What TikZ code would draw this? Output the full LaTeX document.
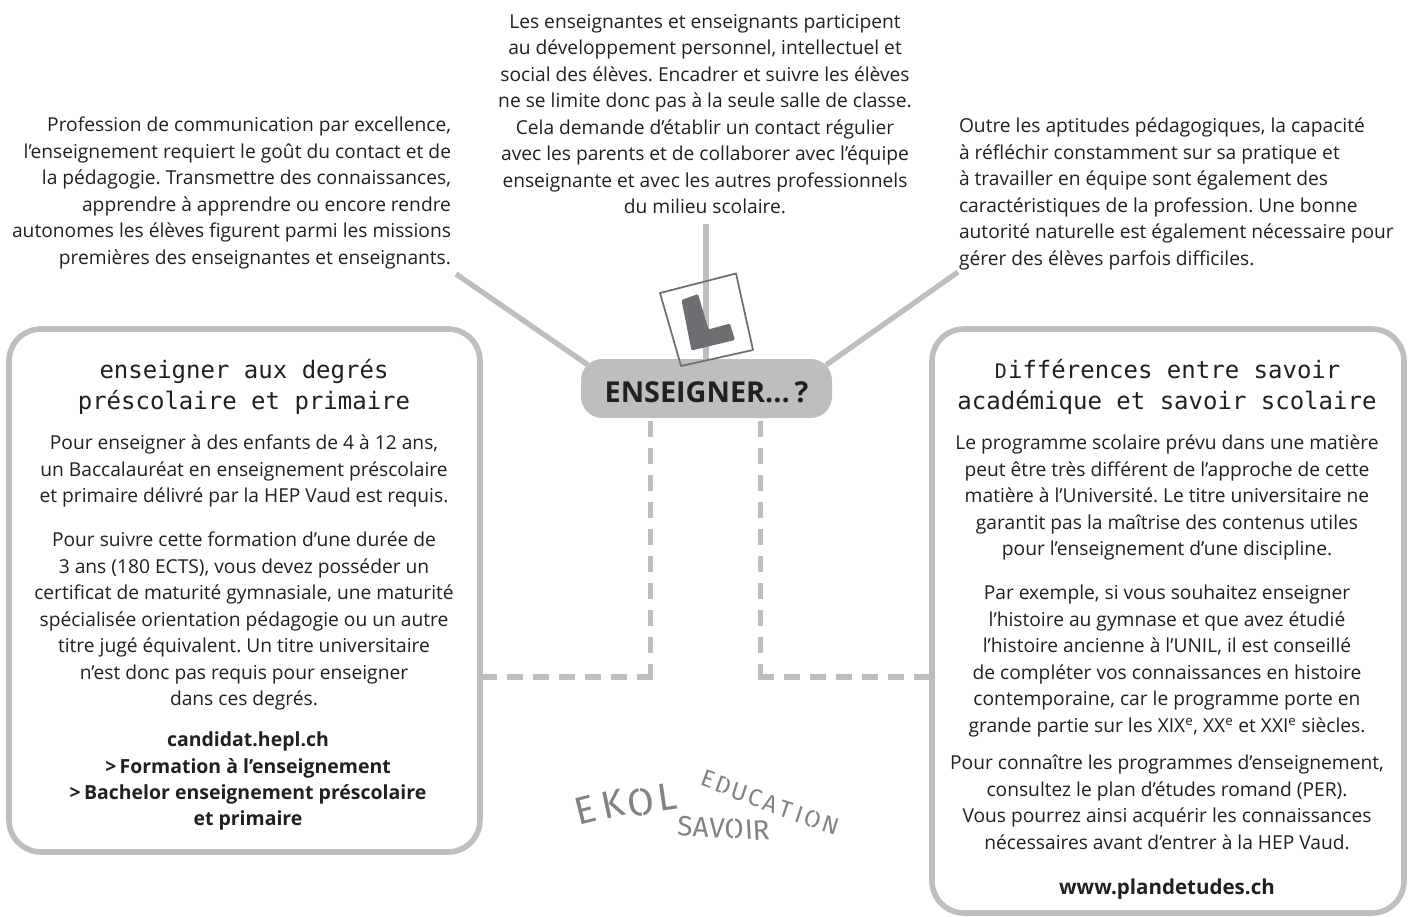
\documentclass[tikz,border=0pt]{standalone}
\usepackage{fontspec}
\setmainfont{Open Sans}
\newfontfamily\headfont{DejaVu Sans Mono}
\newfontfamily\logofont{Fira Sans}
\usetikzlibrary{calc}
\definecolor{lgrey}{HTML}{BCBEC0}
\definecolor{dgrey}{HTML}{6D6E71}
\definecolor{txt}{HTML}{231F20}
\definecolor{logoc}{HTML}{808285}
\newcommand{\smD}{\makebox[10.84pt][c]{\fontsize{15pt}{23.5pt}\selectfont D}}
\tikzset{
  x=0.75pt,y=-0.75pt,
  body/.style={inner sep=0pt,outer sep=0pt,text=txt,font=\frenchspacing\fontsize{14.4pt}{19.9pt}\selectfont,anchor=north},
  bodyc/.style={body,align=center},
  bodyl/.style={body,align=left,anchor=north west},
  bodyr/.style={body,align=right,anchor=north east},
  headt/.style={inner sep=0pt,outer sep=0pt,text=txt,align=center,anchor=north,font=\headfont\fontsize{18pt}{23.5pt}\selectfont},
  panel/.style={draw=lgrey,line width=4.2pt,rounded corners=24pt,fill=white,inner sep=0pt,outer sep=0pt},
  hub/.style={fill=lgrey,rounded corners=16pt,inner sep=0pt,outer sep=0pt},
  solidlink/.style={draw=lgrey,line width=4pt},
  vdash/.style={draw=lgrey,line width=4pt,dash pattern=on 12pt off 8.25pt},
  hdash/.style={draw=lgrey,line width=4pt,dash pattern=on 12pt off 7.5pt},
  lg/.style={inner sep=0pt,outer sep=0pt,text=logoc,font=\logofont\fontsize{#1}{#1}\selectfont},
  cut/.style={draw=white,line width=1pt},
}
\begin{document}
\begin{tikzpicture}
\useasboundingbox (0,0) rectangle (1414,917);
% coordinates
\coordinate (la) at (456,274);
\coordinate (ra) at (958,272);
\coordinate (ta) at (706,224);
\coordinate (hl) at (588,365);
\coordinate (hr) at (826,365);
\coordinate (hm) at (706,362);
\coordinate (dl0) at (650.3,421);
\coordinate (dl1) at (650.3,680);
\coordinate (dl2) at (653,677);
\coordinate (dl3) at (483,677);
\coordinate (dr0) at (760.5,421);
\coordinate (dr1) at (760.5,680);
\coordinate (dr2) at (758,677);
\coordinate (dr3) at (931,677);
% connectors
\draw[solidlink] (la) -- (hl);
\draw[solidlink] (ra) -- (hr);
\draw[solidlink] (ta) -- (hm);
\draw[vdash] (dl0) -- (dl1);
\draw[hdash] (dl2) -- (dl3);
\draw[vdash] (dr0) -- (dr1);
\draw[hdash] (dr2) -- (dr3);
% panels
\node[panel,minimum width=353.25pt,minimum height=392.25pt,anchor=north west] (leftbox) at (9,329) {};
\node[panel,minimum width=354pt,minimum height=438pt,anchor=north west] (rightbox) at (932,329) {};
% hub
\node[hub,minimum width=188.25pt,minimum height=44.25pt,anchor=north west] (hubbox) at (581,359) {};
\node[inner sep=0pt,text=txt,font=\bfseries\fontsize{21.6pt}{26pt}\selectfont] (hubtext) at (706.5,392) {ENSEIGNER...\,?};
% L sign
\draw[dgrey,line width=1.3pt,line join=round] (660,293) -- (736,273.5) -- (753,350) -- (681,366) -- cycle;
\fill[dgrey,rounded corners=1pt] (681.5,300) -- (698,294) -- (708.5,329.5) -- (730,323.5) -- (735,340) -- (691.5,350.5) -- cycle;
% top texts
\node[bodyr] (p1) at (451,117) {Profession de communication par excellence,\\
l’enseignement requiert le goût du contact et de\\
la pédagogie. Transmettre des connaissances,\\
apprendre à apprendre ou encore rendre\\
autonomes les élèves figurent parmi les missions\\
premières des enseignantes et enseignants.};
\node[bodyc] (p2) at (705,14) {Les enseignantes et enseignants participent\\
au développement personnel, intellectuel et\\
social des élèves. Encadrer et suivre les élèves\\
ne se limite donc pas à la seule salle de classe.\\
Cela demande d’établir un contact régulier\\
avec les parents et de collaborer avec l’équipe\\
enseignante et avec les autres professionnels\\
du milieu scolaire.};
\node[bodyl] (p3) at (959,118) {Outre les aptitudes pédagogiques, la capacité\\
à réfléchir constamment sur sa pratique et\\
à travailler en équipe sont également des\\
caractéristiques de la profession. Une bonne\\
autorité naturelle est également nécessaire pour\\
gérer des élèves parfois difficiles.};
% left panel
\node[headt] (lh) at (244,359) {enseigner aux degrés\\préscolaire et primaire};
\node[bodyc] (l1) at (244,435) {Pour enseigner à des enfants de 4 à 12 ans,\\
un Baccalauréat en enseignement préscolaire\\
et primaire délivré par la HEP Vaud est requis.};
\node[bodyc] (l2) at (244,532) {Pour suivre cette formation d’une durée de\\
3 ans (180 ECTS), vous devez posséder un\\
certificat de maturité gymnasiale, une maturité\\
spécialisée orientation pédagogie ou un autre\\
titre jugé équivalent. Un titre universitaire\\
n’est donc pas requis pour enseigner\\
dans ces degrés.};
\node[bodyc,font=\bfseries\fontsize{14.6pt}{19.7pt}\selectfont] (l3) at (248,732) {candidat.hepl.ch\\
>\,Formation à l’enseignement\\
>\,Bachelor enseignement préscolaire\\
et primaire};
% right panel
\node[headt] (rh) at (1167,359) {\smD ifférences entre savoir\\académique et savoir scolaire};
\node[bodyc] (r1) at (1167,435) {Le programme scolaire prévu dans une matière\\
peut être très différent de l’approche de cette\\
matière à l’Université. Le titre universitaire ne\\
garantit pas la maîtrise des contenus utiles\\
pour l’enseignement d’une discipline.};
\node[bodyc] (r2) at (1167,585) {Par exemple, si vous souhaitez enseigner\\
l’histoire au gymnase et que avez étudié\\
l’histoire ancienne à l’UNIL, il est conseillé\\
de compléter vos connaissances en histoire\\
contemporaine, car le programme porte en\\
grande partie sur les XIX\textsuperscript{e}, XX\textsuperscript{e} et XXI\textsuperscript{e} siècles.};
\node[bodyc] (r3) at (1167,755) {Pour connaître les programmes d’enseignement,\\
consultez le plan d’études romand (PER).\\
Vous pourrez ainsi acquérir les connaissances\\
nécessaires avant d’entrer à la HEP Vaud.};
\node[bodyc,font=\bfseries\fontsize{15.4pt}{19.9pt}\selectfont] (r4) at (1167,879) {www.plandetudes.ch};
% logo
\node[lg=29pt,rotate=14] (e1) at (585,810) {E};
\node[lg=29pt,rotate=12] (e2) at (613,804) {K};
\node[lg=29pt,rotate=8] (e3) at (641,802) {O};
\node[lg=29pt,rotate=8] (e4) at (667,797) {L};
\node[lg=18pt,rotate=-20] (d1) at (708,779) {E};
\node[lg=18pt,rotate=-20] (d2) at (724,785) {D};
\node[lg=18pt,rotate=-18] (d3) at (740,792) {U};
\node[lg=18pt,rotate=-18] (d4) at (755,798) {C};
\node[lg=18pt,rotate=-18] (d5) at (771,804) {A};
\node[lg=18pt,rotate=-18] (d6) at (786,810) {T};
\node[lg=18pt,rotate=-18] (d7) at (799,815) {I};
\node[lg=18pt,rotate=-18] (d8) at (813,819) {O};
\node[lg=18pt,rotate=-18] (d9) at (831,825) {N};
\node[lg=21pt,rotate=-3] (s1) at (685,826) {S};
\node[lg=21pt,rotate=-3] (s2) at (701,827) {A};
\node[lg=21pt,rotate=-3] (s3) at (717,828) {V};
\node[lg=21pt,rotate=0] (s4) at (734,829) {O};
\node[lg=21pt,rotate=3] (s5) at (749,830) {I};
\node[lg=21pt,rotate=3] (s6) at (761,830) {R};
% stencil gaps
\foreach \g in {e3,d2,d8,s4}{
  \draw[cut] ($(\g.north)!-0.05!(\g.south)$) -- ($(\g.north)!0.18!(\g.south)$);
  \draw[cut] ($(\g.south)!-0.05!(\g.north)$) -- ($(\g.south)!0.18!(\g.north)$);
}
\end{tikzpicture}
\end{document}
